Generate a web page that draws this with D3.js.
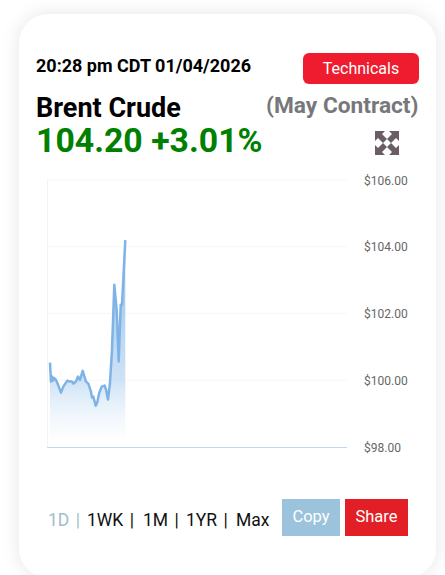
<!DOCTYPE html>
<html><head><meta charset="utf-8">
<script src="https://cdn.jsdelivr.net/npm/d3@7"></script>
<style>html,body{margin:0;padding:0;background:#fff;overflow:hidden}svg{display:block}text{font-family:Roboto,sans-serif}</style>
</head><body><svg id="c" width="445" height="575"></svg>
<script>
const timeSlots=[0,1,2,3,4,6,8,11,13.3,17.3,20,22,23.3,26,28,30,32.7,36,38.3,41,42,43.3,45.7,47.3,49.3,51.7,54.7,56,58,60,62,64.3,66.7,68.7,70.7,72,75.3];
const prices=[100.53,99.96,100.11,99.99,100.07,100.01,99.87,99.63,99.81,99.99,99.96,99.96,99.90,99.96,100.11,100.01,100.28,99.96,99.90,99.66,99.48,99.51,99.24,99.34,99.63,99.81,99.84,99.72,99.42,99.93,100.91,102.86,102.11,100.56,102.26,102.26,104.20];
const yTicks=[98,100,102,104,106];
const ranges=["1D |","1WK |","1M |","1YR |","Max"];
const rangeX=[48,87,143,186,236];
const svg=d3.select("#c");
const defs=svg.append("defs");
const f=defs.append("filter").attr("id","sh").attr("x","-20%").attr("y","-20%").attr("width","140%").attr("height","140%");
f.append("feDropShadow").attr("dx",0).attr("dy",0).attr("stdDeviation",9).attr("flood-color","#000").attr("flood-opacity",0.10);
const g=defs.append("linearGradient").attr("id","ag").attr("x1",0).attr("x2",0).attr("y1",0).attr("y2",1);
g.append("stop").attr("offset","0%").attr("stop-color","#8fbeec").attr("stop-opacity",1);
g.append("stop").attr("offset","70%").attr("stop-color","#c4ddf4").attr("stop-opacity",.85);
g.append("stop").attr("offset","100%").attr("stop-color","#e4f0fa").attr("stop-opacity",.1);
svg.append("rect").attr("x",19).attr("y",14).attr("width",417).attr("height",564).attr("rx",30).attr("fill","#fff").attr("filter","url(#sh)");
const T=(x,y,s,size,w,col,a)=>svg.append("text").attr("x",x).attr("y",y).text(s).attr("font-size",size).attr("font-weight",w).attr("fill",col).attr("text-anchor",a||"start");
T(36,72,"20:28 pm CDT 01/04/2026",18,700,"#000");
svg.append("rect").attr("x",303).attr("y",53).attr("width",116).attr("height",31).attr("rx",6).attr("fill","#ee1c2e");
T(361,74,"Technicals",16,400,"#fff","middle");
T(36,117,"Brent Crude",27,700,"#000");
T(418.5,113,"(May Contract)",22.7,700,"#77787b","end");
T(36,152,"104.20 +3.01%",33.8,700,"#008000");
// expand icon
const ic=svg.append("g").attr("transform","translate(387,143)").attr("fill","#6a5d66");
[0,90,180,270].forEach(r=>ic.append("path").attr("transform",`rotate(${r})`).attr("d","M-12,-12H-2L-5,-9L0,-4L-4,0L-9,-5L-12,-2Z"));
// chart
const x=d3.scaleLinear().domain([0,297]).range([50,347]);
const y=d3.scaleLinear().domain([98,106]).range([447,180]);
const grid=svg.append("g");
grid.selectAll("line").data(yTicks.slice(1)).join("line").attr("x1",47).attr("x2",347).attr("y1",d=>y(d)).attr("y2",d=>y(d)).attr("stroke","#f4f6f8").attr("stroke-width",1);
svg.append("line").attr("x1",47.5).attr("x2",47.5).attr("y1",180).attr("y2",447).attr("stroke","#f1f3f5");
const data=timeSlots.map((t,i)=>[t,prices[i]]);
svg.append("path").datum(data).attr("fill","url(#ag)").attr("d",d3.area().x(d=>x(d[0])).y0(y(98)-8).y1(d=>y(d[1])));
svg.append("line").attr("x1",47).attr("x2",347).attr("y1",447.5).attr("y2",447.5).attr("stroke","#c3d9ee").attr("stroke-width",1);
svg.append("path").datum(data).attr("fill","none").attr("stroke","#7fb3e6").attr("stroke-width",2.5).attr("stroke-linejoin","round").attr("d",d3.line().x(d=>x(d[0])).y(d=>y(d[1])));
const ax=d3.axisRight(y).tickValues(yTicks).tickSize(0).tickPadding(0).tickFormat(d=>"$"+d.toFixed(2));
const ag=svg.append("g").attr("transform","translate(364,0.4)").call(ax);
ag.select(".domain").remove();
ag.selectAll("text").attr("font-size",12).attr("fill","#666").attr("font-family","Roboto,sans-serif");
// footer
ranges.forEach((r,i)=>T(rangeX[i],526,r,17.5,400,i==0?"#a3bccb":"#111").attr("word-spacing",2));
svg.append("rect").attr("x",282).attr("y",499).attr("width",58).attr("height",37).attr("fill","#9cc3dc");
T(311,522,"Copy",16.5,400,"#fff","middle");
svg.append("rect").attr("x",345).attr("y",499).attr("width",63).attr("height",37).attr("fill","#e21f26");
T(376.5,522,"Share",16.5,400,"#fff","middle");
</script></body></html>
